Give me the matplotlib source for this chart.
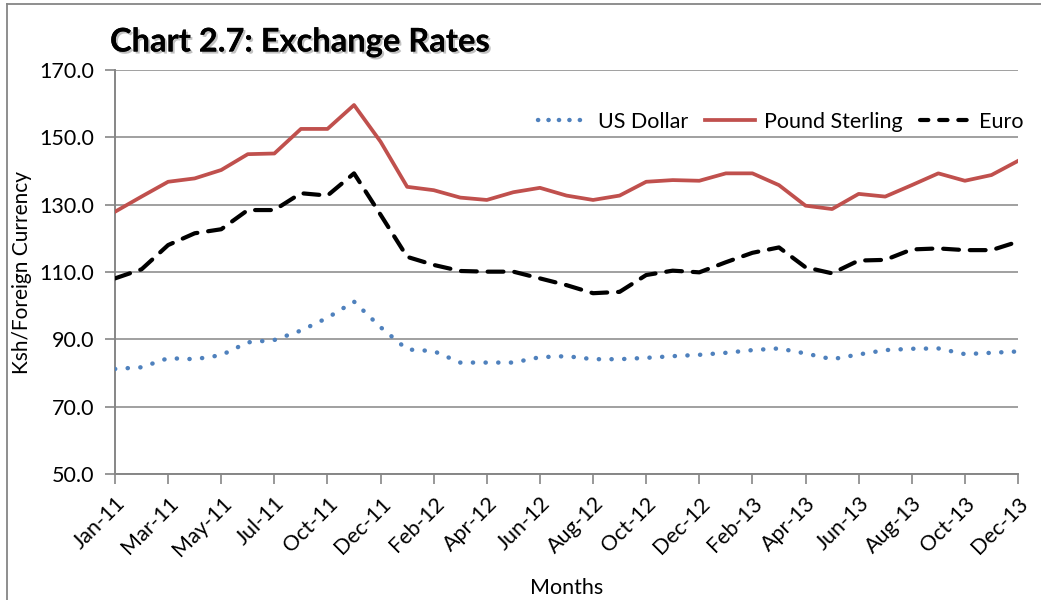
import numpy as np
import matplotlib
matplotlib.use("Agg")
import matplotlib.pyplot as plt
import matplotlib.patheffects as pe
from matplotlib.lines import Line2D

plt.rcParams['font.family'] = ['Lato', 'DejaVu Sans']

# 35 monthly observations (Sep-11 is not in the series)
months = ['Jan-11', 'Feb-11', 'Mar-11', 'Apr-11', 'May-11', 'Jun-11', 'Jul-11', 'Aug-11',
          'Oct-11', 'Nov-11', 'Dec-11',
          'Jan-12', 'Feb-12', 'Mar-12', 'Apr-12', 'May-12', 'Jun-12', 'Jul-12', 'Aug-12',
          'Sep-12', 'Oct-12', 'Nov-12', 'Dec-12',
          'Jan-13', 'Feb-13', 'Mar-13', 'Apr-13', 'May-13', 'Jun-13', 'Jul-13', 'Aug-13',
          'Sep-13', 'Oct-13', 'Nov-13', 'Dec-13']

us_dollar = [81.2, 81.7, 84.4, 84.1, 85.3, 89.1, 89.8, 92.6, 96.4, 101.2, 93.6,
             87.0, 86.5, 83.1, 83.1, 83.1, 84.7, 85.0, 84.1, 84.1, 84.5, 85.0, 85.4,
             86.0, 86.8, 87.3, 85.8, 84.1, 85.5, 86.8, 87.2, 87.3, 85.6, 86.0, 86.4]

pound = [127.9, 132.4, 136.8, 137.8, 140.3, 145.0, 145.2, 152.5, 152.5, 159.6, 148.7,
         135.3, 134.3, 132.1, 131.4, 133.7, 135.0, 132.7, 131.4, 132.7, 136.8, 137.3, 137.1,
         139.3, 139.3, 135.8, 129.7, 128.7, 133.2, 132.4, 135.8, 139.3, 137.1, 138.8, 143.0]

euro = [108.1, 110.8, 118.0, 121.5, 122.7, 128.4, 128.4, 133.4, 132.7, 139.3, 127.0,
        114.5, 112.1, 110.3, 110.1, 110.1, 108.1, 106.1, 103.7, 104.1, 109.1, 110.4, 109.9,
        112.9, 115.7, 117.3, 111.4, 109.6, 113.4, 113.6, 116.7, 117.0, 116.5, 116.5, 119.0]

blue = '#4F81BD'
red = '#C0504D'
grid_col = '#A0A0A0'
axis_col = '#868686'

fig = plt.figure(figsize=(10.41, 6.0), dpi=100)
ax = fig.add_axes([115 / 1041, 126 / 600, 903 / 1041, 404 / 600])

x = np.arange(len(months))

l_us, = ax.plot(x, us_dollar, color=blue, lw=3.2, dashes=(0.05, 2.8),
                dash_capstyle='round', label='US Dollar', zorder=3)
l_gb, = ax.plot(x, pound, color=red, lw=2.7, solid_joinstyle='round', label='Pound Sterling', zorder=3)
l_eu, = ax.plot(x, euro, color='black', lw=3.0, dashes=(3.8, 2.6),
                dash_capstyle='round', label='Euro', zorder=3)

ax.set_xlim(0, len(months) - 1)
ax.set_ylim(50, 170)
ax.set_yticks(np.arange(50, 171, 20))
ax.set_yticklabels(['%.1f' % v for v in np.arange(50, 171, 20)])
ax.set_xticks(x[::2])
ax.set_xticklabels(months[::2], rotation=45, ha='right', rotation_mode='anchor')

ax.yaxis.grid(True, color=grid_col, lw=1.4)
ax.set_axisbelow(True)
for s in ['top', 'right']:
    ax.spines[s].set_visible(False)
for s in ['left', 'bottom']:
    ax.spines[s].set_color(axis_col)
    ax.spines[s].set_linewidth(1.4)
ax.tick_params(axis='both', direction='out', length=7, width=1.2, color=axis_col,
               labelsize=15.5, labelcolor='black')
ax.tick_params(axis='x', pad=7)
ax.tick_params(axis='y', pad=8)

ax.set_ylabel('Ksh/Foreign Currency', fontsize=15)
ax.yaxis.set_label_coords(-0.092, 0.5)
ax.set_xlabel('Months', fontsize=15.5)
ax.xaxis.set_label_coords(0.50, -0.258)

leg_us = Line2D([], [], color=blue, lw=3.2, dashes=(0.05, 2.3), dash_capstyle='round')
leg_gb = Line2D([], [], color=red, lw=2.7)
leg_eu = Line2D([], [], color='black', lw=3.0, dashes=(2.0, 2.6), dash_capstyle='round')
ax.legend([leg_us, leg_gb, leg_eu], ['US Dollar', 'Pound Sterling', 'Euro'],
          loc='upper right', bbox_to_anchor=(1.028, 0.945), ncol=3, frameon=False,
          fontsize=15.5, handlelength=2.3, handletextpad=0.45, columnspacing=0.8)

fig.text(110 / 1041, 1 - 42 / 600, 'Chart 2.7: Exchange Rates', fontsize=23.5, fontweight='bold',
         va='center', ha='left',
         path_effects=[pe.withSimplePatchShadow(offset=(1.5, -1.5), shadow_rgbFace='#999999', alpha=0.6),
                       pe.Normal()])

# outer chart frame (top and left edges)
fig.add_artist(Line2D([7 / 1041, 7 / 1041], [0, 1 - 4 / 600], transform=fig.transFigure,
                      color=axis_col, lw=1.3))
fig.add_artist(Line2D([7 / 1041, 1], [1 - 4 / 600, 1 - 4 / 600], transform=fig.transFigure,
                      color=axis_col, lw=1.3))

fig.savefig('out.png', dpi=100)
